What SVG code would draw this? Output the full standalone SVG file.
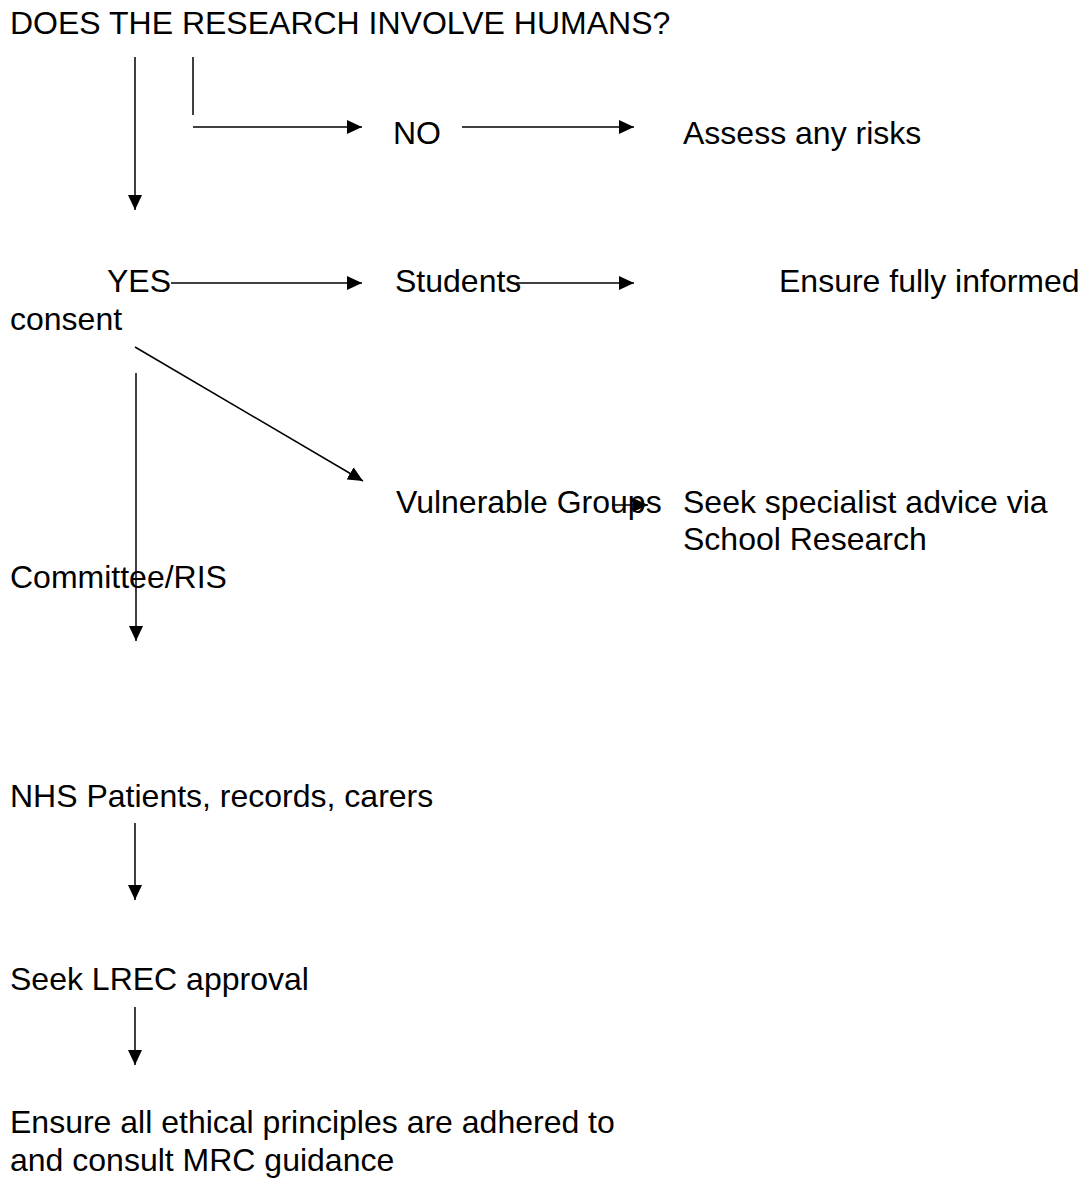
<svg xmlns="http://www.w3.org/2000/svg" width="1087" height="1182" viewBox="0 0 1087 1182">
<style>
  text { font-family: "Liberation Sans", Arial, sans-serif; font-size: 32px; fill: #000; }
  .c { stroke: #000; stroke-width: 1.5; fill: none; }
</style>
<defs>
  <marker id="ah" markerUnits="userSpaceOnUse" markerWidth="16" markerHeight="14" refX="15" refY="7" orient="auto">
    <path d="M0,0 L15,7 L0,14 Z" fill="#000"/>
  </marker>
</defs>
<rect width="1087" height="1182" fill="#fff"/>
<g id="connectors">
  <line class="c" x1="135" y1="57" x2="135" y2="210" marker-end="url(#ah)"/>
  <line class="c" x1="193" y1="57" x2="193" y2="115"/>
  <line class="c" x1="193" y1="127" x2="362" y2="127" marker-end="url(#ah)"/>
  <line class="c" x1="462" y1="127" x2="634" y2="127" marker-end="url(#ah)"/>
  <line class="c" x1="171" y1="283" x2="362" y2="283" marker-end="url(#ah)"/>
  <line class="c" x1="516" y1="283" x2="634" y2="283" marker-end="url(#ah)"/>
  <line class="c" x1="135" y1="347" x2="363" y2="481" marker-end="url(#ah)"/>
  <line class="c" x1="136" y1="373" x2="136" y2="641" marker-end="url(#ah)"/>
  <line class="c" x1="612" y1="505" x2="648" y2="505" marker-end="url(#ah)"/>
  <line class="c" x1="135" y1="823" x2="135" y2="900" marker-end="url(#ah)"/>
  <line class="c" x1="135" y1="1007" x2="135" y2="1065" marker-end="url(#ah)"/>
</g>
<g id="n-question"><text x="10" y="34">DOES THE RESEARCH INVOLVE HUMANS?</text></g>
<g id="n-no"><text x="393" y="144">NO</text></g>
<g id="n-assess"><text x="683" y="144">Assess any risks</text></g>
<g id="n-yes"><text x="107" y="292">YES</text></g>
<g id="n-students"><text x="395" y="292">Students</text></g>
<g id="n-consent"><text x="779" y="292">Ensure fully informed</text><text x="10" y="330">consent</text></g>
<g id="n-vulnerable"><text x="396" y="513">Vulnerable Groups</text></g>
<g id="n-specialist"><text x="683" y="513">Seek specialist advice via</text><text x="683" y="550">School Research</text><text x="10" y="588">Committee/RIS</text></g>
<g id="n-nhs"><text x="10" y="807">NHS Patients, records, carers</text></g>
<g id="n-lrec"><text x="10" y="990">Seek LREC approval</text></g>
<g id="n-ethics"><text x="10" y="1133">Ensure all ethical principles are adhered to</text><text x="10" y="1171">and consult MRC guidance</text></g>
</svg>
